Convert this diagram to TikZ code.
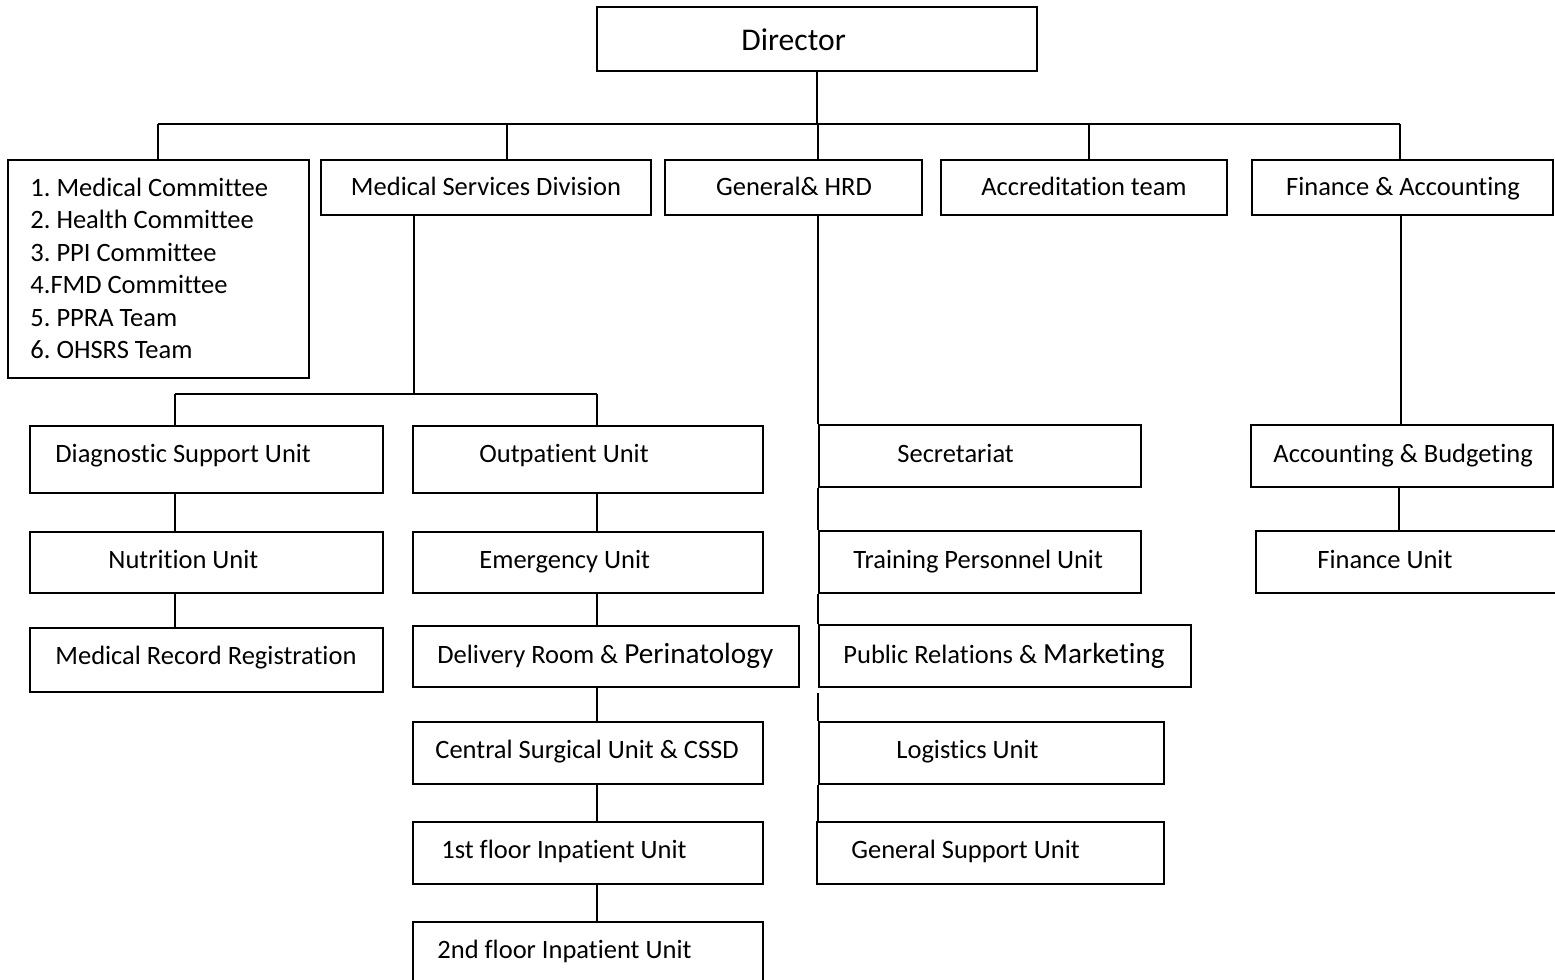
\documentclass[tikz,border=0pt]{standalone}
\usepackage{fontspec}
\setmainfont[Ligatures=NoCommon]{Carlito}
\usetikzlibrary{fit}
\frenchspacing
\tikzset{
  boxst/.style={draw, line width=1pt, inner sep=0pt},
  openbox/.style={inner sep=0pt},
  txt/.style={anchor=base west, inner sep=0pt, font=\fontsize{13.25}{16}\selectfont},
  txtc/.style={anchor=base, inner sep=0pt, font=\fontsize{13.25}{16}\selectfont},
  conn/.style={line width=1pt},
}
\newcommand{\bigw}[1]{{\fontsize{14.6}{17}\selectfont #1}}
\begin{document}
\begin{tikzpicture}[x=0.5pt,y=-0.5pt]
\useasboundingbox (0,0) rectangle (1555,980);

% ---- boxes ----
\node[boxst, fit={(597,7)(1037,71)}] (dir) {};
\node[boxst, fit={(8,160)(309,378)}] (comm) {};
\node[boxst, fit={(321,160)(651,215)}] (msd) {};
\node[boxst, fit={(665,160)(922,215)}] (hrd) {};
\node[boxst, fit={(941,160)(1227,215)}] (acct) {};
\node[boxst, fit={(1252,160)(1553,215)}] (fin) {};

\node[boxst, fit={(30,426)(383,493)}] (diag) {};
\node[boxst, fit={(30,532)(383,593)}] (nutr) {};
\node[boxst, fit={(30,628)(383,692)}] (medrec) {};

\node[boxst, fit={(413,426)(763,493)}] (outp) {};
\node[boxst, fit={(413,532)(763,593)}] (emerg) {};
\node[boxst, fit={(413,626)(799,687)}] (deliv) {};
\node[boxst, fit={(413,722)(763,784)}] (csu) {};
\node[boxst, fit={(413,822)(763,884)}] (inp1) {};
\node[openbox, fit={(413,922)(763,980)}] (inp2) {};
\draw[conn] (inp2.south west) -- (inp2.north west) -- (inp2.north east) -- (inp2.south east);

\node[boxst, fit={(819,425)(1141,487)}] (sec) {};
\node[boxst, fit={(819,531)(1141,593)}] (train) {};
\node[boxst, fit={(819,625)(1191,687)}] (pr) {};
\node[boxst, fit={(819,722)(1164,784)}] (logi) {};
\node[boxst, fit={(817,822)(1164,884)}] (gsu) {};

\node[boxst, fit={(1251,425)(1553,487)}] (accb) {};
\node[openbox, fit={(1256,531)(1556,593)}] (fu) {};
\draw[conn] (fu.north east) -- (fu.north west) -- (fu.south west) -- (fu.south east);

% ---- texts ----
\node[anchor=base west, inner sep=0pt, font=\fontsize{15.8}{19}\selectfont] (dir-t) at (741,50) {Director};

\node[txt] (c1) at (30,196) {1. Medical Committee};
\node[txt] (c2) at (30,228.5) {2. Health Committee};
\node[txt] (c3) at (30,261) {3. PPI Committee};
\node[txt] (c4) at (30,293.5) {4.FMD Committee};
\node[txt] (c5) at (30,326) {5. PPRA Team};
\node[txt] (c6) at (30,358.5) {6. OHSRS Team};

\node[txtc] (msd-t) at (486,195) {Medical Services Division};
\node[txtc] (hrd-t) at (794,195) {General\& HRD};
\node[txtc] (acct-t) at (1084,195) {Accreditation team};
\node[txtc] (fin-t) at (1403,195) {Finance \& Accounting};

\node[txt] (diag-t) at (55,462.5) {Diagnostic Support Unit};
\node[txt] (nutr-t) at (108,568.5) {Nutrition Unit};
\node[txt] (medrec-t) at (55,664.5) {Medical Record Registration};

\node[txt] (outp-t) at (479,462.5) {Outpatient Unit};
\node[txt] (emerg-t) at (479,568.5) {Emergency Unit};
\node[txt] (deliv-t) at (437,663.5) {Delivery Room \& \bigw{Perinatology}};
\node[txt] (csu-t) at (435,758.5) {Central Surgical Unit \& CSSD};
\node[txt] (inp1-t) at (441,858.5) {1st floor Inpatient Unit};
\node[txt] (inp2-t) at (437,958.5) {2nd floor Inpatient Unit};

\node[txt] (sec-t) at (897,462.5) {Secretariat};
\node[txt] (train-t) at (853,568.5) {Training Personnel Unit};
\node[txt] (pr-t) at (843,663.5) {Public Relations \& \bigw{Marketing}};
\node[txt] (logi-t) at (896,758.5) {Logistics Unit};
\node[txt] (gsu-t) at (851,858.5) {General Support Unit};

\node[txt] (accb-t) at (1273,462.5) {Accounting \& Budgeting};
\node[txt] (fu-t) at (1317,568.5) {Finance Unit};

% ---- connectors ----
\coordinate (busL) at (158,124);
\coordinate (busR) at (1400,124);
\coordinate (bMSD) at (507,124);
\coordinate (bHRD) at (818,124);
\coordinate (bAcc) at (1089,124);
\draw[conn] (busL) -- (busR);
\draw[conn] (dir.south) -- (dir.south |- busL);
\draw[conn] (busL) -- (busL |- comm.north);
\draw[conn] (bMSD) -- (bMSD |- msd.north);
\draw[conn] (bHRD) -- (bHRD |- hrd.north);
\draw[conn] (bAcc) -- (bAcc |- acct.north);
\draw[conn] (busR) -- (busR |- fin.north);

\coordinate (mbar) at (414,394);
\coordinate (mL) at (175,394);
\coordinate (mR) at (597,394);
\draw[conn] (mbar |- msd.south) -- (mbar);
\draw[conn] (mL) -- (mR);
\draw[conn] (mL) -- (mL |- diag.north);
\draw[conn] (mR) -- (mR |- outp.north);
\draw[conn] (mL |- diag.south) -- (mL |- nutr.north);
\draw[conn] (mL |- nutr.south) -- (mL |- medrec.north);
\draw[conn] (mR |- outp.south) -- (mR |- emerg.north);
\draw[conn] (mR |- emerg.south) -- (mR |- deliv.north);
\draw[conn] (mR |- deliv.south) -- (mR |- csu.north);
\draw[conn] (mR |- csu.south) -- (mR |- inp1.north);
\draw[conn] (mR |- inp1.south) -- (mR |- inp2.north);

\coordinate (hx) at (818,0);
\draw[conn] (hx |- hrd.south) -- (hx |- sec.north) -- (sec.north west);
\draw[conn] (sec.south west) -- (train.north west);
\draw[conn] (train.south west) -- (pr.north west);
\draw[conn] ([yshift=-2.5pt]pr.south west) -- (logi.north west);
\draw[conn] (logi.south west) -- (logi.south west |- gsu.north);

\coordinate (fx) at (1401,0);
\coordinate (fx2) at (1399,0);
\draw[conn] (fx |- fin.south) -- (fx |- accb.north);
\draw[conn] (fx2 |- accb.south) -- (fx2 |- fu.north);
\end{tikzpicture}
\end{document}
